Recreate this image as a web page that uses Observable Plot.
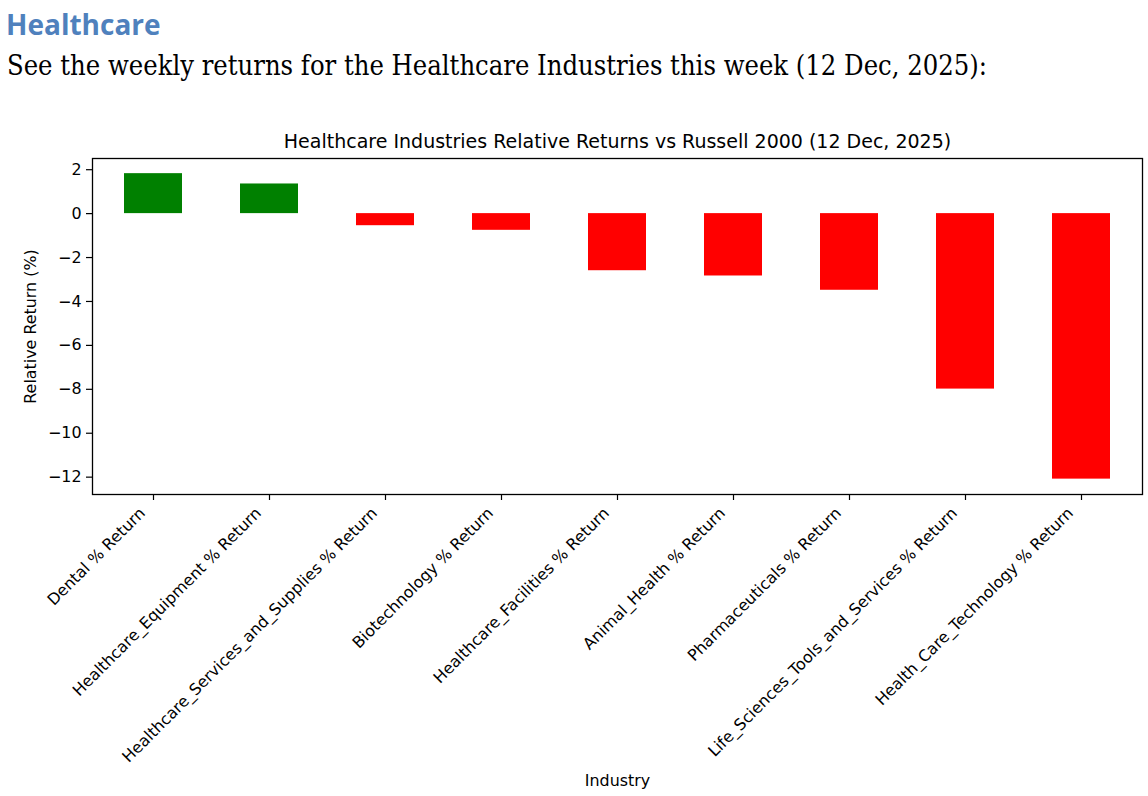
<!DOCTYPE html>
<html><head><meta charset="utf-8">
<script src="https://cdn.jsdelivr.net/npm/d3@7"></script>
<script src="https://cdn.jsdelivr.net/npm/@observablehq/plot@0.6"></script>
<style>
body{margin:0;background:#fff;width:1148px;height:796px;overflow:hidden;position:relative}
#h1{position:absolute;left:6px;top:5px;font-family:"Open Sans";font-weight:700;font-size:28px;line-height:38px;color:#4f81bd;white-space:nowrap}
#h2{position:absolute;left:7px;top:48px;font-family:"DejaVu Serif Condensed","DejaVu Serif";font-stretch:condensed;font-size:27.1px;line-height:36px;color:#000;white-space:nowrap}
#chart{position:absolute;left:0;top:110px}
</style></head><body>
<div id="h1">Healthcare</div>
<div id="h2">See the weekly returns for the Healthcare Industries this week (12 Dec, 2025):</div>
<div id="chart"></div>
<script>
const industries = [
  "Dental % Return",
  "Healthcare_Equipment % Return",
  "Healthcare_Services_and_Supplies % Return",
  "Biotechnology % Return",
  "Healthcare_Facilities % Return",
  "Animal_Health % Return",
  "Pharmaceuticals % Return",
  "Life_Sciences_Tools_and_Services % Return",
  "Health_Care_Technology % Return"
];
const returns = [1.82, 1.35, -0.55, -0.76, -2.60, -2.84, -3.49, -7.99, -12.09];
const yTicks = [2, 0, -2, -4, -6, -8, -10, -12];
const chartTitle = "Healthcare Industries Relative Returns vs Russell 2000 (12 Dec, 2025)";
const xLabel = "Industry";
const yLabel = "Relative Return (%)";

const data = industries.map((name, i) => ({name, value: returns[i]}));

const plot = Plot.plot({
  width: 1148, height: 686,
  marginTop: 48, marginBottom: 302, marginLeft: 92, marginRight: 6,
  style: {fontFamily: "DejaVu Sans", fontSize: "15.9px", color: "#000", background: "#fff", overflow: "visible"},
  x: {domain: industries, paddingInner: 0.5, paddingOuter: 0.25, label: null},
  y: {domain: [-12.79, 2.51], label: null},
  color: {type: "identity"},
  marks: [
    Plot.barY(data, {x: "name", y: "value", fill: d => d.value >= 0 ? "green" : "red"}),
    Plot.frame({stroke: "#000", strokeWidth: 1.3}),
    Plot.axisY({ticks: yTicks, tickSize: 6, tickPadding: 5, tickFormat: d3.format("d"), label: null, strokeWidth: 1.2}),
    Plot.axisX({tickSize: 6, tickFormat: () => "", label: null, strokeWidth: 1.2}),
    Plot.axisX({tickSize: 0, tickPadding: 10, tickRotate: -45, label: null, dx: -11, dy: 6}),
    Plot.text([chartTitle], {text: d => d, frameAnchor: "top", lineAnchor: "middle", dy: -17, fontSize: 19}),
    Plot.text([yLabel], {text: d => d, frameAnchor: "left", textAnchor: "middle", dx: -62, rotate: -90}),
    Plot.text([xLabel], {text: d => d, frameAnchor: "bottom", lineAnchor: "middle", dy: 286})
  ]
});
document.getElementById("chart").appendChild(plot);
</script>
</body></html>
